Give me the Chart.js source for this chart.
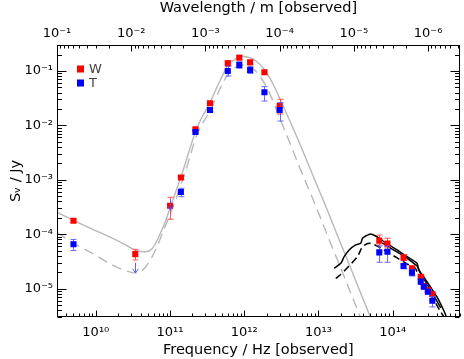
<!DOCTYPE html>
<html><head><meta charset="utf-8">
<script src="https://cdn.jsdelivr.net/npm/chart.js@4.4.1/dist/chart.umd.min.js"></script>
<style>html,body{margin:0;padding:0;background:#fff}</style>
</head><body>
<canvas id="c" width="464" height="359"></canvas>
<script>
// ---------- data ----------
const LIGHT_SPEED = 2.998e8;
const freqRange = [2.998e9, 8e14];
const fluxRange = [3e-6, 0.3];
const freqTicks = [1e10, 1e11, 1e12, 1e13, 1e14];
const waveTicks = [1e-1, 1e-2, 1e-3, 1e-4, 1e-5, 1e-6];
const fluxTicks = [1e-5, 1e-4, 1e-3, 1e-2, 1e-1];

// W (red) detections
const freqW  = [5e9, 3.4e10, 1e11, 1.4e11, 2.2e11, 3.45e11, 6e11, 8.57e11, 1.2e12, 1.87e12, 3e12,
                6.6e13, 8.5e13, 1.4e14, 1.82e14, 2.39e14, 2.63e14, 2.98e14, 3.42e14];
const fluxW  = [1.77e-4, 4.3e-5, 3.33e-4, 1.1e-3, 8.45e-3, 0.0254, 0.138, 0.175, 0.144, 0.0944, 0.023,
                7.6e-5, 6.7e-5, 3.7e-5, 2.36e-5, 1.65e-5, 1.11e-5, 9.4e-6, 7.95e-6];
const errLoW = [1.65e-4, 3.35e-5, 1.88e-4, 1.02e-3, 7.9e-3, 0.0238, 0.125, 0.163, 0.134, 0.088, 0.0162,
                6.3e-5, 5.6e-5, 3.3e-5, 2.2e-5, 1.55e-5, 1.04e-5, 8.8e-6, 7.4e-6];
const errHiW = [1.9e-4, 5.26e-5, 4.76e-4, 1.18e-3, 9.0e-3, 0.0271, 0.155, 0.195, 0.156, 0.101, 0.0301,
                9.6e-5, 8.4e-5, 4.2e-5, 2.55e-5, 1.76e-5, 1.19e-5, 1.0e-5, 8.5e-6];

// T (blue) detections
const freqT  = [5e9, 1.4e11, 2.2e11, 3.45e11, 6e11, 8.57e11, 1.2e12, 1.87e12, 3e12,
                6.6e13, 8.5e13, 1.4e14, 1.82e14, 2.39e14, 2.63e14, 2.98e14, 3.42e14];
const fluxT  = [6.5e-5, 5.95e-4, 7.55e-3, 0.0191, 0.0997, 0.1286, 0.104, 0.0405, 0.0191,
                4.63e-5, 4.75e-5, 2.6e-5, 1.96e-5, 1.34e-5, 1.08e-5, 8.75e-6, 5.98e-6];
const errLoT = [5.0e-5, 4.89e-4, 7.0e-3, 0.0178, 0.0807, 0.112, 0.09, 0.028, 0.012,
                3.04e-5, 3.04e-5, 2.3e-5, 1.7e-5, 1.2e-5, 0.98e-5, 7.9e-6, 4.6e-6];
const errHiT = [8.0e-5, 6.97e-4, 8.1e-3, 0.0205, 0.123, 0.148, 0.12, 0.0514, 0.026,
                6.05e-5, 6.05e-5, 2.9e-5, 2.25e-5, 1.48e-5, 1.19e-5, 9.6e-6, 7.1e-6];
// T (blue) upper limits
const freqTLim = [3.4e10, 1e11];
const fluxTLim = [2.95e-5, 4.4e-4];
const arrowTLim = [1.95e-5, 2.8e-4];

// gray model curves
const modelFreqW = [3.0e9, 5.14e9, 8.95e9, 1.51e10, 2.4e10, 3.51e10, 4.68e10, 5.69e10, 7.05e10, 8.49e10,
                    1.02e11, 1.4e11, 2.25e11, 3.53e11, 4.76e11, 6.09e11, 7.56e11, 9.38e11, 1.16e12,
                    1.44e12, 1.89e12, 2.44e12, 3.12e12, 4.12e12, 5.27e12, 7.18e12, 9.77e12, 1.33e13,
                    1.81e13, 2.46e13, 3.35e13, 5.0e13];
const modelFluxW = [2.5e-4, 1.77e-4, 1.24e-4, 8.98e-5, 6.59e-5, 5.01e-5, 4.76e-5, 5.33e-5, 8.87e-5, 1.6e-4,
                    3.29e-4, 1.11e-3, 8.22e-3, 0.0281, 0.0683, 0.129, 0.166, 0.184, 0.177,
                    0.152, 0.104, 0.0575, 0.028, 0.012, 5.61e-3, 2.03e-3, 7.36e-4, 2.67e-4,
                    9.25e-5, 3.35e-5, 1.16e-5, 3.0e-6];
const modelFreqT = [3.0e9, 5.14e9, 9.02e9, 1.51e10, 2.53e10, 3.51e10, 4.68e10, 6.37e10, 8.22e10, 1.12e11,
                    1.61e11, 2.3e11, 3.61e11, 4.76e11, 6.09e11, 7.8e11, 9.66e11, 1.23e12, 1.58e12,
                    2.09e12, 3.12e12, 4.12e12, 5.27e12, 7.18e12, 9.77e12, 1.4e13, 1.92e13, 2.62e13, 3.67e13];
const modelFluxT = [1.07e-4, 6.7e-5, 4.44e-5, 2.91e-5, 2.13e-5, 1.93e-5, 2.49e-5, 5.12e-5, 1.19e-4, 3.44e-4,
                    1.41e-3, 6.65e-3, 0.0208, 0.0487, 0.0879, 0.118, 0.129, 0.118, 0.0843,
                    0.0447, 0.012, 4.74e-3, 2.03e-3, 7.36e-4, 2.67e-4, 7.81e-5, 2.71e-5, 9.4e-6, 3.0e-6];

// black template curves
const tmplFreqA = [1.63e13, 2.0e13, 2.22e13, 2.59e13, 3.18e13, 3.71e13, 3.91e13, 4.33e13, 5.04e13, 5.89e13,
                   6.86e13, 8.89e13, 1.15e14, 1.56e14, 2.13e14, 2.24e14, 2.61e14, 3.21e14, 3.94e14, 4.84e14, 5.36e14];
const tmplFluxA = [2.36e-5, 2.91e-5, 3.85e-5, 5.12e-5, 6.33e-5, 6.8e-5, 8.4e-5, 9.25e-5, 1.01e-4, 9.25e-5,
                   8.05e-5, 6.33e-5, 5.12e-5, 3.85e-5, 2.91e-5, 2.19e-5, 1.65e-5, 1.08e-5, 7.08e-6, 4.03e-6, 2.88e-6];
const tmplFreqB = [1.71e13, 1.96e13, 3.35e13, 3.91e13, 4.8e13, 6.2e13, 8.43e13, 1.15e14, 1.56e14, 2.0e14,
                   2.26e14, 2.72e14, 3.47e14, 4.45e14, 5.0e14];
const tmplFluxB = [1.54e-5, 1.77e-5, 3.85e-5, 5.88e-5, 6.8e-5, 6.05e-5, 4.7e-5, 3.65e-5, 2.83e-5, 2.39e-5,
                   1.7e-5, 1.11e-5, 6.7e-6, 3.7e-6, 2.88e-6];
const tmplFreqC = [7.23e13, 9.84e13, 1.34e14, 1.82e14, 2.13e14, 2.41e14, 2.9e14, 3.59e14, 4.45e14];
const tmplFluxC = [6.9e-5, 5.33e-5, 4.14e-5, 3.08e-5, 2.6e-5, 1.85e-5, 1.21e-5, 7.3e-6, 4.4e-6];

const legendNames = ['W', 'T'];
const RED = '#ff0000', BLUE = '#0000ff';

// ---------- helpers ----------
const pts = (xs, ys) => xs.map((x, i) => ({x: x, y: ys[i]}));
const SUP = {'-':'\u207B','0':'\u2070','1':'\u00B9','2':'\u00B2','3':'\u00B3','4':'\u2074','5':'\u2075','6':'\u2076','7':'\u2077','8':'\u2078','9':'\u2079'};
const powLabel = v => '10' + String(Math.round(Math.log10(v))).split('').map(c => SUP[c]).join('');
const FONT = 'DejaVu Sans';

const errorPlugin = {
  id: 'errbars',
  beforeDatasetDraw(chart, args) {
    const ctx = chart.ctx, xs = chart.scales.x, ys = chart.scales.y;
    const drawBars = (fx, lo, hi, color) => {
      ctx.save(); ctx.strokeStyle = color; ctx.lineWidth = 1;
      fx.forEach((f, i) => {
        const px = Math.round(xs.getPixelForValue(f)) + 0.5;
        const y1 = ys.getPixelForValue(lo[i]), y2 = ys.getPixelForValue(hi[i]);
        ctx.beginPath();
        ctx.moveTo(px, y1); ctx.lineTo(px, y2);
        ctx.moveTo(px - 3, y1); ctx.lineTo(px + 3, y1);
        ctx.moveTo(px - 3, y2); ctx.lineTo(px + 3, y2);
        ctx.stroke();
      });
      ctx.restore();
    };
    if (args.index === 5) drawBars(freqW, errLoW, errHiW, 'rgba(255,70,70,0.9)');
    if (args.index === 6) {
      drawBars(freqT, errLoT, errHiT, 'rgba(80,80,255,0.85)');
      ctx.save(); ctx.strokeStyle = 'rgba(80,80,255,0.9)'; ctx.lineWidth = 1;
      freqTLim.forEach((f, i) => {
        const px = Math.round(xs.getPixelForValue(f)) + 0.5;
        const y1 = ys.getPixelForValue(fluxTLim[i]), y2 = ys.getPixelForValue(arrowTLim[i]);
        ctx.beginPath();
        ctx.moveTo(px, y1); ctx.lineTo(px, y2);
        ctx.moveTo(px - 3, y2 - 4); ctx.lineTo(px, y2); ctx.lineTo(px + 3, y2 - 4);
        ctx.stroke();
      });
      ctx.restore();
    }
  }
};

const framePlugin = {
  id: 'frame',
  afterDraw(chart) {
    const ctx = chart.ctx, a = chart.chartArea;
    const L = Math.round(a.left) + 0.5, R = Math.round(a.right) - 0.5;
    const T = Math.round(a.top) + 0.5, B = Math.round(a.bottom) - 0.5;
    ctx.save();
    ctx.strokeStyle = '#000'; ctx.lineWidth = 1;
    ctx.strokeRect(L, T, R - L, B - T);
    ctx.beginPath();
    const decadeTicks = (scale, cb) => {
      const lo = Math.floor(Math.log10(Math.min(scale.min, scale.max))) - 1;
      const hi = Math.ceil(Math.log10(Math.max(scale.min, scale.max))) + 1;
      for (let d = lo; d <= hi; d++) for (let m = 1; m <= 9; m++) {
        const v = m * Math.pow(10, d);
        if (v < Math.min(scale.min, scale.max) || v > Math.max(scale.min, scale.max)) continue;
        cb(scale.getPixelForValue(v), m === 1);
      }
    };
    decadeTicks(chart.scales.x, (p, major) => {
      const x = Math.round(p) + 0.5, len = major ? 6 : 3;
      ctx.moveTo(x, B); ctx.lineTo(x, B - len);
    });
    decadeTicks(chart.scales.x2, (p, major) => {
      const x = Math.round(p) + 0.5, len = major ? 6 : 3;
      ctx.moveTo(x, T); ctx.lineTo(x, T + len);
    });
    decadeTicks(chart.scales.y, (p, major) => {
      const y = Math.round(p) + 0.5, len = major ? 9 : 4.5;
      ctx.moveTo(L, y); ctx.lineTo(L + len, y);
      ctx.moveTo(R, y); ctx.lineTo(R - len, y);
    });
    ctx.stroke();
    // legend
    const lx = a.left + 20, ly = a.top + 24;
    [RED, BLUE].forEach((col, i) => {
      ctx.fillStyle = col;
      ctx.fillRect(lx, ly + i * 14 - 3.5, 7, 7);
      ctx.fillStyle = '#444';
      ctx.font = '13px "' + FONT + '"';
      ctx.textBaseline = 'middle';
      ctx.fillText(legendNames[i], lx + 12, ly + i * 14 + 0.5);
    });
    ctx.restore();
  }
};

const tickFont = {family: FONT, size: 13};
const titleFont = {family: FONT, size: 14.5};
const powTicks = arr => scale => { scale.ticks = arr.map(v => ({value: v})); };

new Chart(document.getElementById('c'), {
  type: 'scatter',
  data: {
    datasets: [
      {label: 'model W', data: pts(modelFreqW, modelFluxW), showLine: true, borderColor: '#b8b8b8', borderWidth: 1.4,
       pointRadius: 0, cubicInterpolationMode: 'monotone', order: 6},
      {label: 'model T', data: pts(modelFreqT, modelFluxT), showLine: true, borderColor: '#b8b8b8', borderWidth: 1.4,
       borderDash: [10, 6], pointRadius: 0, cubicInterpolationMode: 'monotone', order: 5},
      {label: 'template A', data: pts(tmplFreqA, tmplFluxA), showLine: true, borderColor: '#000', borderWidth: 1.5,
       pointRadius: 0, tension: 0.2, order: 4},
      {label: 'template B', data: pts(tmplFreqB, tmplFluxB), showLine: true, borderColor: '#000', borderWidth: 1.5,
       borderDash: [7, 4], pointRadius: 0, tension: 0.2, order: 3},
      {label: 'template C', data: pts(tmplFreqC, tmplFluxC), showLine: true, borderColor: '#000', borderWidth: 1.5,
       pointRadius: 0, tension: 0.2, order: 2},
      {label: legendNames[0], data: pts(freqW, fluxW), pointStyle: 'rect', pointRadius: 4.3, backgroundColor: RED,
       borderWidth: 0, order: 1},
      {label: legendNames[1], data: pts(freqT, fluxT), pointStyle: 'rect', pointRadius: 4.3, backgroundColor: BLUE,
       borderWidth: 0, order: 0}
    ]
  },
  options: {
    responsive: false, animation: false, devicePixelRatio: 1,
    layout: {padding: {left: 0, right: 1, top: 0, bottom: 0}},
    plugins: {legend: {display: false}, tooltip: {enabled: false}},
    scales: {
      x: {
        type: 'logarithmic', position: 'bottom', min: freqRange[0], max: freqRange[1],
        grid: {display: false, drawTicks: false}, border: {display: false},
        afterBuildTicks: powTicks(freqTicks),
        afterFit: s => { s.height = 42; },
        ticks: {font: tickFont, color: '#000', padding: 8, maxRotation: 0, autoSkip: false, callback: v => powLabel(v)},
        title: {display: true, text: 'Frequency / Hz [observed]', font: titleFont, color: '#000', padding: {top: 0, bottom: 0}}
      },
      x2: {
        type: 'logarithmic', position: 'top', reverse: true,
        min: LIGHT_SPEED / freqRange[1], max: LIGHT_SPEED / freqRange[0],
        grid: {display: false, drawTicks: false}, border: {display: false},
        afterBuildTicks: powTicks(waveTicks),
        afterFit: s => { s.height = 45; },
        ticks: {font: tickFont, color: '#000', padding: 4, maxRotation: 0, autoSkip: false, callback: v => powLabel(v)},
        title: {display: true, text: 'Wavelength / m [observed]', font: titleFont, color: '#000', padding: {top: 0, bottom: 0}}
      },
      y: {
        type: 'logarithmic', position: 'left', min: fluxRange[0], max: fluxRange[1],
        grid: {display: false, drawTicks: false}, border: {display: false},
        afterBuildTicks: powTicks(fluxTicks),
        afterFit: s => { s.width = 57; },
        ticks: {font: tickFont, color: '#000', padding: 4, autoSkip: false, callback: v => powLabel(v)},
        title: {display: true, text: 'S\u1D65 / Jy', font: titleFont, color: '#000', padding: {top: 8, bottom: 0}}
      }
    }
  },
  plugins: [errorPlugin, framePlugin]
});
</script>
</body></html>
